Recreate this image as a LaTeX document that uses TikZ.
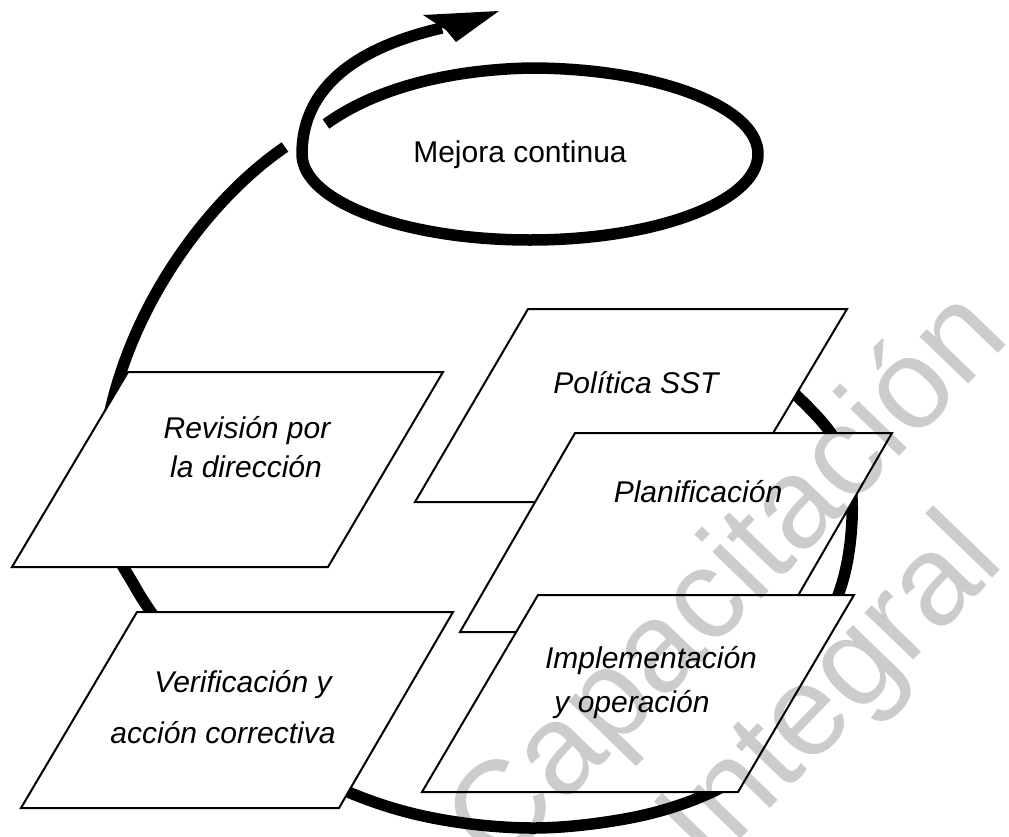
\documentclass[tikz,border=0pt]{standalone}
\usepackage{fontspec}
\setmainfont{Liberation Sans}
\begin{document}
\begin{tikzpicture}[x=1pt,y=-1pt,
  loopline/.style={line width=11.5pt, line cap=butt, line join=round},
  stage/.style={draw=black, line width=2pt, fill=white, line join=miter},
  lbl/.style={font=\fontsize{30}{36}\selectfont\itshape, inner sep=0pt, anchor=base},
  title/.style={font=\fontsize{30}{36}\selectfont, inner sep=0pt, anchor=base},
  wm/.style={font=\fontsize{128}{150}\selectfont, text=black, text opacity=0.2, inner sep=0pt}]
\useasboundingbox (0,0) rectangle (1009,836);
\clip (0,0) rectangle (1009,836);

% large cycle
\coordinate (c0) at (285,147);
\coordinate (c1) at (102,465);
\draw[loopline] (c0) .. controls (200,205) and (112,330) .. (c1);
\draw[loopline] plot[smooth, tension=0.6] coordinates {
 (102,465) (112,540)
 (134,585) (160,625) (215,700) (275,752) (348,792) (433,818) (533,828)
 (630,818) (703,796) (740,770) (780,703) (818,640) (843,580) (852,520)
 (848,470) (830,432) (795,394) (765,368) (735,350)};

% continuous improvement loop with arrow
\draw[loopline] (326,124) .. controls (370,92) and (440,70) .. (530,68)
   arc[start angle=-90, end angle=180, x radius=228, y radius=86]
   .. controls (302,95) and (345,50) .. (442,28);
\fill (423,15) -- (499,11) -- (456,42) -- (446,30) -- cycle;
\node[title] (mejora) at (520,162) {Mejora continua};

% stages
\draw[stage] (128,372) -- (443,372) -- (328,567) -- (12,567) -- cycle;
\draw[stage] (137,612) -- (453,612) -- (339,808) -- (21,808) -- cycle;
\draw[stage] (528,309) -- (847,309) -- (732,502) -- (415,502) -- cycle;
\draw[stage] (575,433) -- (892,433) -- (777,632) -- (460,632) -- cycle;
\draw[stage] (538,595) -- (854,595) -- (738,792) -- (422,792) -- cycle;

\node[lbl] (rev1) at (247,438) {Revisión por};
\node[lbl] (rev2) at (246,477) {la dirección};
\node[lbl] (pol) at (636,393) {Política SST};
\node[lbl] (plan) at (698,502) {Planificación};
\node[lbl] (ver1) at (243,692) {Verificación y};
\node[lbl] (ver2) at (223,743) {acción correctiva};
\node[lbl] (imp1) at (651,668) {Implementación};
\node[lbl] (imp2) at (632,712) {y operación};

% watermark
\node[wm, rotate=46, anchor=base west] (wm1) at (498,872) {Capacitación};
\node[wm, rotate=46, anchor=base] (wm2) at (858,718) {Integral};
\end{tikzpicture}
\end{document}
